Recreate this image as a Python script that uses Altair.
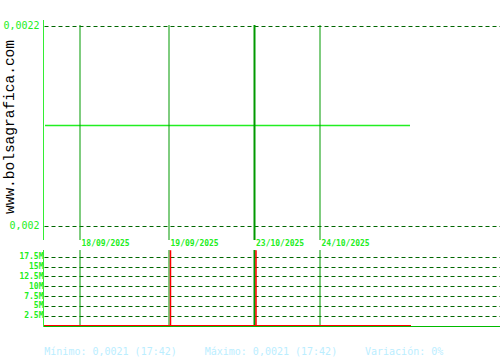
import altair as alt
import pandas as pd

# ---- data ----
dates = ["18/09/2025", "19/09/2025", "23/10/2025", "24/10/2025"]
date_pos = [36, 125, 210.5, 276]
sep_width = [1, 1, 2, 1]

price_pos = [1, 366]
price_val = [0.0021, 0.0021]

spike_pos = [126.5, 212]
spike_vol = [19.2e6, 19.2e6]

base_pos = [0, 367]
base_vol = [0, 0]

price_ticks = [0.002, 0.0022]
vol_ticks = [2.5e6, 5e6, 7.5e6, 10e6, 12.5e6, 15e6, 17.5e6]

footer = ["Mínimo: 0,0021 (17:42)", "Máximo: 0,0021 (17:42)", "Variación: 0%"]
watermark = "www.bolsagrafica.com"

FONT = "DejaVu Sans Mono"
GREEN_LBL = "#22ee22"
SEP = "#009900"
GRID = "#006600"

xs = alt.Scale(domain=[0, 456], range=[0, 456], nice=False, zero=False)
ps = alt.Scale(domain=[0.002, 0.0022], range=[225.5, 25.5], nice=False, zero=False)
vs = alt.Scale(domain=[0, 19e6], range=[325.5, 251], nice=False)

sep_df = pd.DataFrame({"pos": date_pos, "date": dates, "w": sep_width})
price_df = pd.DataFrame({"pos": price_pos, "price": price_val})
spike_df = pd.DataFrame({"pos": spike_pos, "vol": spike_vol})
base_df = pd.DataFrame({"pos": base_pos, "vol": base_vol})

price_axis = alt.Axis(values=price_ticks, orient="left", domain=False, ticks=False,
                      labelExpr="replace(format(datum.value,'~g'),'.',',')",
                      labelFont=FONT, labelFontSize=10, labelColor=GREEN_LBL,
                      labelPadding=5, grid=True, gridColor=GRID, gridDash=[4, 3],
                      gridWidth=1, title=None)
vol_axis = alt.Axis(values=vol_ticks, orient="left", domain=False, ticks=False,
                    labelExpr="format(datum.value/1e6,'~g')+'M'",
                    labelFont=FONT, labelFontSize=8, labelFontWeight="bold",
                    labelColor=GREEN_LBL, labelPadding=1, grid=True,
                    gridColor=GRID, gridDash=[4, 3], gridWidth=1, title=None)

price_line = alt.Chart(price_df).mark_line(color="#22ee22", strokeWidth=1.5).encode(
    x=alt.X("pos:Q", scale=xs, axis=None),
    y=alt.Y("price:Q", scale=ps, axis=price_axis),
)

sep_top = alt.Chart(sep_df).mark_rule(color=SEP).encode(
    x=alt.X("pos:Q", scale=xs, axis=None),
    y=alt.value(25), y2=alt.value(240),
    strokeWidth=alt.StrokeWidth("w:Q", scale=None, legend=None),
)
sep_bot = alt.Chart(sep_df).mark_rule(color=SEP).encode(
    x=alt.X("pos:Q", scale=xs, axis=None),
    y=alt.value(250), y2=alt.value(326),
    strokeWidth=alt.StrokeWidth("w:Q", scale=None, legend=None),
)
date_lbl = alt.Chart(sep_df).mark_text(align="left", baseline="middle", dx=1.5,
                                       font=FONT, fontSize=8, fontWeight="bold",
                                       color=GREEN_LBL).encode(
    x=alt.X("pos:Q", scale=xs, axis=None), y=alt.value(244), text="date:N")

spikes = alt.Chart(spike_df).mark_rule(color="#ff0000", strokeWidth=1.5).encode(
    x=alt.X("pos:Q", scale=xs, axis=None),
    y=alt.Y("vol:Q", scale=vs, axis=vol_axis),
    y2=alt.datum(0),
)
base_red = alt.Chart(base_df).mark_line(color="#ff0000", strokeWidth=1).encode(
    x=alt.X("pos:Q", scale=xs, axis=None),
    y=alt.Y("vol:Q", scale=vs, axis=None),
)
base_green = alt.Chart(base_df).mark_rule(color="#00bb00", strokeWidth=1).encode(
    x=alt.value(-1), x2=alt.value(456), y=alt.value(326.5))
axis_top = alt.Chart(base_df).mark_rule(color="#33ee33", strokeWidth=1).encode(
    x=alt.value(-0.5), x2=alt.value(-0.5), y=alt.value(20), y2=alt.value(240))
axis_bot = alt.Chart(base_df).mark_rule(color="#33ee33", strokeWidth=1).encode(
    x=alt.value(-0.5), x2=alt.value(-0.5), y=alt.value(250), y2=alt.value(327))

foot_x = [0.3, 160.7, 321]
foot_layers = [
    alt.Chart(pd.DataFrame({"t": [t]})).mark_text(
        align="left", baseline="middle", font=FONT, fontSize=10, color="#bbeeff"
    ).encode(x=alt.value(fx), y=alt.value(352), text="t:N")
    for t, fx in zip(footer, foot_x)
]
wm = alt.Chart(pd.DataFrame({"t": [watermark]})).mark_text(
    align="center", baseline="middle", angle=270, font="Liberation Mono",
    fontSize=14.5, color="#000000").encode(x=alt.value(-34), y=alt.value(127), text="t:N")

chart = alt.layer(
    price_line, sep_top, sep_bot, spikes, base_red, base_green,
    axis_top, axis_bot, date_lbl, wm, *foot_layers
).resolve_scale(y="independent").properties(
    width=456, height=360,
    background="white",
    autosize=alt.AutoSizeParams(type="none"),
    padding={"left": 44, "top": 0, "right": 0, "bottom": 0},
).configure_view(stroke=None)

chart.save("out.html", embed_options={"renderer": "svg", "actions": False})
